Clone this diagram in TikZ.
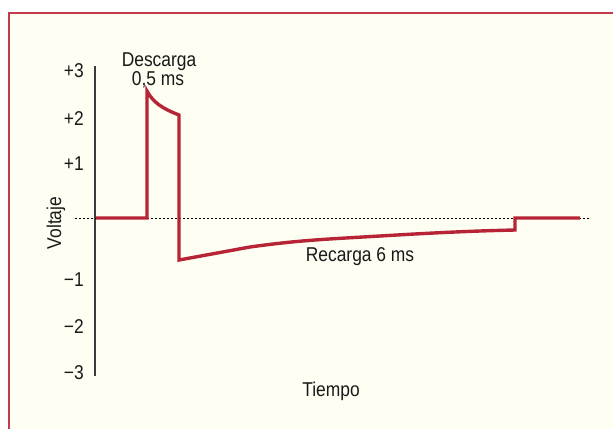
\documentclass[tikz,border=0pt]{standalone}
\usepackage{fontspec}
\setmainfont{Liberation Sans}[FakeStretch=0.87]
\definecolor{wave}{RGB}{182,36,54}
\definecolor{paper}{RGB}{255,254,243}
\definecolor{framec}{RGB}{192,60,75}
\definecolor{axisc}{RGB}{60,60,60}
\tikzset{
  lbl/.style={font=\fontsize{20}{22}\selectfont, inner sep=0pt, text=black!90},
  ticklbl/.style={lbl, anchor=base east},
  wavepath/.style={draw=wave, line width=3.4pt, miter limit=10},
  zeroline/.style={draw=black, line width=0.9pt, dash pattern=on 2pt off 2pt},
  axisline/.style={draw=axisc, line width=1.1pt},
}
\begin{document}
\begin{tikzpicture}[x=1pt,y=-1pt]
\useasboundingbox (0,0) rectangle (613,429);
% panel
\fill[paper] (9,13) rectangle (613,429);
\draw[framec, line width=1.6pt] (9,429) -- (9,13) -- (613,13);
% axis
\coordinate (axtop) at (95,66);
\coordinate (axbot) at (95,376);
\draw[axisline] (axtop) -- (axbot);
% zero line
\coordinate (z0) at (75,218);
\coordinate (z1) at (590,218);
\draw[zeroline] (z0) -- (z1);
% tick labels
\node[ticklbl] (p3) at (84,77) {+3};
\node[ticklbl] (p2) at (84,125) {+2};
\node[ticklbl] (p1) at (84,170) {+1};
\node[ticklbl] (m1) at (84,286) {−1};
\node[ticklbl] (m2) at (84,333) {−2};
\node[ticklbl] (m3) at (84,379) {−3};
% waveform
\draw[wavepath] (96,218) -- (147,218) -- (147,91)
  .. controls (153,102) and (161,108) .. (179,115)
  -- (179,260) -- (250,247)
  .. controls (300,240) and (330,239) .. (380,236)
  .. controls (430,233) and (470,231) .. (515,230)
  -- (515,218) -- (580,218);
% texts
\node[lbl, anchor=base] (desc) at (159,66) {Descarga};
\node[lbl, anchor=base] (dur) at (158,85) {0,5 ms};
\node[lbl, anchor=base] (rec) at (360,261) {Recarga 6 ms};
\node[lbl, anchor=base] (tiempo) at (331,396) {Tiempo};
\node[lbl, anchor=base, rotate=90] (volt) at (61,223) {Voltaje};
\end{tikzpicture}
\end{document}
